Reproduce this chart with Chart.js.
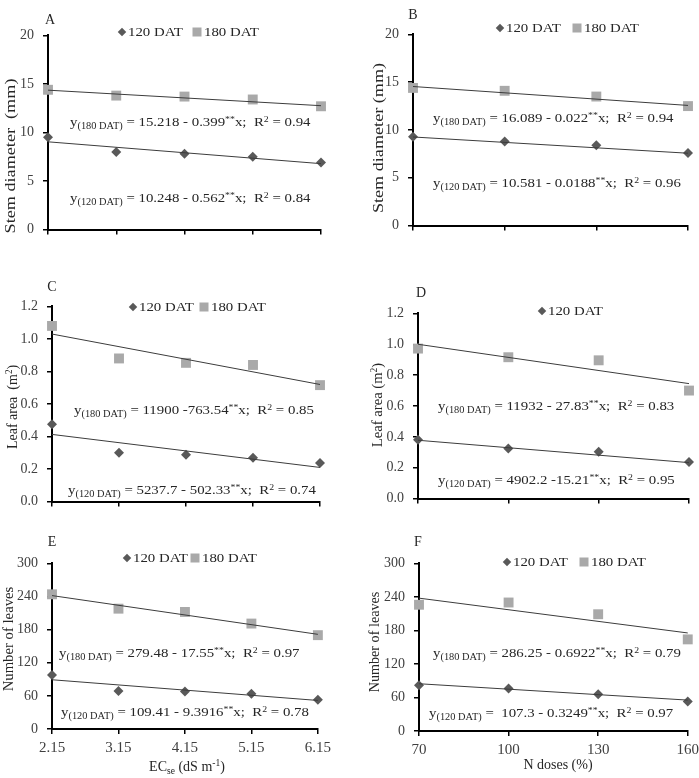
<!DOCTYPE html>
<html>
<head>
<meta charset="utf-8">
<script src="https://cdn.jsdelivr.net/npm/chart.js@4.4.0/dist/chart.umd.min.js"></script>
<style>
  body { margin: 0; background: #fff; width: 699px; height: 778px; position: relative; overflow: hidden;
         font-family: "Liberation Serif", "Times New Roman", serif; color: #262626; }
  canvas { position: absolute; }
  .t { position: absolute; white-space: nowrap; font-size: 13.5px; line-height: 16px; height: 16px;
       transform-origin: 0 50%; transform: scaleX(1.1); }
  .t sub { font-size: 0.7em; vertical-align: -0.3em; line-height: 0; }
  .t sup { font-size: 0.66em; vertical-align: 0.5em; line-height: 0; }
  .c { position: absolute; white-space: nowrap; font-size: 14px; line-height: 16px; transform: translate(-50%, -50%); }
  .c sub { font-size: 0.68em; vertical-align: -0.3em; line-height: 0; }
  .c sup { font-size: 0.68em; vertical-align: 0.55em; line-height: 0; }
  .yt { position: absolute; white-space: nowrap; font-size: 15px; line-height: 16px; }
  .mk { position: absolute; }
  .mk.d { width: 6px; height: 6px; background: #595959; transform: translate(-50%, -50%) rotate(45deg); }
  .mk.s { width: 9px; height: 9px; background: #a9a9a9; transform: translate(-50%, -50%); }
</style>
</head>
<body>
<script>
// x levels
const ecLevels = [2.15, 3.15, 4.15, 5.15, 6.15];
const ecLabels = ['2.15', '3.15', '4.15', '5.15', '6.15'];
const nDoses = [70, 100, 130, 160];
const nLabels = ['70', '100', '130', '160'];

// y ticks
const stemTicks = [0, 5, 10, 15, 20];
const leafTicks = [0, 0.2, 0.4, 0.6, 0.8, 1.0, 1.2];
const leavesTicks = [0, 60, 120, 180, 240, 300];

// A - stem diameter vs ECse
const stemEc120 = [9.5, 8.0, 7.8, 7.5, 6.9];
const stemEc180 = [14.4, 13.8, 13.7, 13.4, 12.7];
const stemEcFit120 = [9.04, 6.79];
const stemEcFit180 = [14.36, 12.76];

// B - stem diameter vs N
const stemN120 = [9.3, 8.8, 8.4, 7.6];
const stemN180 = [14.4, 14.1, 13.5, 12.5];
const stemNFit120 = [9.27, 7.57];
const stemNFit180 = [14.55, 12.57];

// C - leaf area vs ECse
const leafEc120 = [0.475, 0.30, 0.288, 0.27, 0.238];
const leafEc180 = [1.08, 0.88, 0.853, 0.84, 0.716];
const leafEcFit120 = [0.413, 0.21];
const leafEcFit180 = [1.03, 0.72];

// D - leaf area vs N
const leafN120 = [0.382, 0.325, 0.303, 0.237];
const leafN180 = [0.972, 0.916, 0.896, 0.70];
const leafNFit120 = [0.378, 0.233];
const leafNFit180 = [1.0, 0.745];

// E - number of leaves vs ECse
const leavesEc120 = [98, 69, 68, 64, 53];
const leavesEc180 = [244, 218, 212, 191, 170];
const leavesEcFit120 = [89.2, 51.7];
const leavesEcFit180 = [241.7, 171.5];

// F - number of leaves vs N
const leavesN120 = [82, 76, 66, 53];
const leavesN180 = [226, 230, 209, 164];
const leavesNFit120 = [84.6, 55.3];
const leavesNFit180 = [237.8, 175.5];

const FONT = '"Liberation Serif", "Times New Roman", serif';

// plot = [left, right, top, bottom] of the chart area on the page
const panels = [
  { cx: 0,   plot: [48, 321, 28, 237],  xVals: ecLevels, xLabels: null,     yTicks: stemTicks,   dec: 0,
    s120: stemEc120, s180: stemEc180, f120: stemEcFit120, f180: stemEcFit180 },
  { cx: 365, plot: [413, 688, 27, 233], xVals: nDoses,   xLabels: null,     yTicks: stemTicks,   dec: 0,
    s120: stemN120, s180: stemN180, f120: stemNFit120, f180: stemNFit180 },
  { cx: 0,   plot: [52, 320, 299, 509], xVals: ecLevels, xLabels: null,     yTicks: leafTicks,   dec: 1,
    s120: leafEc120, s180: leafEc180, f120: leafEcFit120, f180: leafEcFit180 },
  { cx: 365, plot: [418, 689, 306, 506], xVals: nDoses,  xLabels: null,     yTicks: leafTicks,   dec: 1,
    s120: leafN120, s180: leafN180, f120: leafNFit120, f180: leafNFit180 },
  { cx: 0,   plot: [52, 320, 556, 729], xVals: ecLevels, xLabels: ecLabels, yTicks: leavesTicks, dec: 0,
    s120: leavesEc120, s180: leavesEc180, f120: leavesEcFit120, f180: leavesEcFit180 },
  { cx: 365, plot: [419, 688, 556, 731], xVals: nDoses,  xLabels: nLabels,  yTicks: leavesTicks, dec: 0,
    s120: leavesN120, s180: leavesN180, f120: leavesNFit120, f180: leavesNFit180 }
];

function makePanel(p) {
  const [pl, pr, pt, pb] = p.plot;
  const padTop = 10, padRight = 16;
  const yW = pl - p.cx;
  const xH = p.xLabels ? 32 : 10;
  const w = pr - p.cx + padRight;
  const h = padTop + (pb - pt) + xH;

  const cv = document.createElement('canvas');
  cv.width = w; cv.height = h;
  cv.style.left = p.cx + 'px';
  cv.style.top = (pt - padTop) + 'px';
  cv.style.width = w + 'px';
  cv.style.height = h + 'px';
  document.body.appendChild(cv);

  const last = p.xVals.length - 1;
  const pts = arr => p.xVals.map((x, i) => ({ x: x, y: arr[i] }));
  const fit = f => [{ x: p.xVals[0], y: f[0] }, { x: p.xVals[last], y: f[1] }];

  new Chart(cv, {
    type: 'scatter',
    data: {
      datasets: [
        { data: fit(p.f180), showLine: true, borderColor: '#3c3c3c', borderWidth: 1, pointRadius: 0, clip: false, order: 0 },
        { data: fit(p.f120), showLine: true, borderColor: '#3c3c3c', borderWidth: 1, pointRadius: 0, clip: false, order: 0 },
        { data: pts(p.s180), pointStyle: 'rect', pointRadius: 7, backgroundColor: '#a9a9a9', borderWidth: 0, clip: false, order: 1 },
        { data: pts(p.s120), pointStyle: 'rectRot', pointRadius: 5, backgroundColor: '#595959', borderWidth: 0, clip: false, order: 2 }
      ]
    },
    options: {
      responsive: false,
      animation: false,
      devicePixelRatio: 1,
      layout: { padding: { top: padTop, right: padRight, left: 0, bottom: 0 } },
      plugins: { legend: { display: false }, tooltip: { enabled: false } },
      scales: {
        x: {
          type: 'linear',
          min: p.xVals[0],
          max: p.xVals[last],
          afterBuildTicks: s => { s.ticks = p.xVals.map(v => ({ value: v })); },
          afterFit: s => { s.height = xH; },
          border: { display: true, color: '#000', width: 2 },
          grid: { display: true, drawOnChartArea: false, drawTicks: true, tickLength: 5, color: '#000', lineWidth: 1.5 },
          ticks: {
            padding: 5,
            color: '#404040',
            maxRotation: 0,
            autoSkip: false,
            font: { family: FONT, size: 15 },
            callback: (v, i) => p.xLabels ? p.xLabels[i] : ''
          }
        },
        y: {
          type: 'linear',
          min: p.yTicks[0],
          max: p.yTicks[p.yTicks.length - 1],
          afterBuildTicks: s => { s.ticks = p.yTicks.map(v => ({ value: v })); },
          afterFit: s => { s.width = yW; },
          border: { display: true, color: '#000', width: 2 },
          grid: { display: true, drawOnChartArea: false, drawTicks: true, tickLength: 5, color: '#000', lineWidth: 1.5 },
          ticks: {
            padding: 9,
            color: '#404040',
            font: { family: FONT, size: 14 },
            callback: v => Number(v).toFixed(p.dec)
          }
        }
      }
    }
  });
}

panels.forEach(makePanel);

// ---- text overlays ----
function addHtml(cls, html, x, y) {
  const d = document.createElement('div');
  d.className = cls;
  d.innerHTML = html;
  d.style.left = x + 'px';
  d.style.top = (cls === 't' ? y - 8 : y) + 'px';
  document.body.appendChild(d);
  return d;
}

function eq(tag, rest) {
  return 'y<sub>(' + tag + ' DAT)</sub> ' + rest;
}
const S = '<sup>**</sup>x;&nbsp; R<sup>2</sup> = ';

// panel letters
[['A', 50, 20], ['B', 413, 15], ['C', 52, 287], ['D', 421, 293], ['E', 52, 542], ['F', 418, 542]]
  .forEach(l => addHtml('c', l[0], l[1], l[2]));

// legends: [type, markerX, y]
const legends = [
  [['d', 122, 32], ['s', 197, 32]],
  [['d', 500, 28], ['s', 577, 28]],
  [['d', 133, 307], ['s', 204, 307]],
  [['d', 542, 311]],
  [['d', 127, 558], ['s', 195, 558]],
  [['d', 507, 562], ['s', 584, 562]]
];
legends.forEach(items => items.forEach(it => {
  const m = document.createElement('div');
  m.className = 'mk ' + it[0];
  m.style.left = it[1] + 'px';
  m.style.top = it[2] + 'px';
  document.body.appendChild(m);
  addHtml('t', (it[0] === 'd' ? '120' : '180') + ' DAT', it[1] + (it[0] === 'd' ? 6 : 7), it[2]);
}));

// regression equations
const equations = [
  [eq('180', '= 15.218 - 0.399' + S + '0.94'), 70, 122],
  [eq('120', '= 10.248 - 0.562' + S + '0.84'), 70, 198],
  [eq('180', '= 16.089 - 0.022' + S + '0.94'), 433, 118],
  [eq('120', '= 10.581 - 0.0188' + S + '0.96'), 433, 183],
  [eq('180', '= 11900 -763.54' + S + '0.85'), 74, 410],
  [eq('120', '= 5237.7 - 502.33' + S + '0.74'), 68, 490],
  [eq('180', '= 11932 - 27.83' + S + '0.83'), 438, 406],
  [eq('120', '= 4902.2 -15.21' + S + '0.95'), 438, 480],
  [eq('180', '= 279.48 - 17.55' + S + '0.97'), 59, 653],
  [eq('120', '= 109.41 - 9.3916' + S + '0.78'), 61, 712],
  [eq('180', '= 286.25 - 0.6922' + S + '0.79'), 433, 653],
  [eq('120', '= &nbsp;107.3 - 0.3249' + S + '0.97'), 429, 713]
];
equations.forEach(e => addHtml('t', e[0], e[1], e[2]));

// x-axis titles
addHtml('c', 'EC<sub>se</sub> (dS m<sup>-1</sup>)', 187, 767);
addHtml('c', 'N doses (%)', 558, 765);

// y-axis titles: [text, centerX, centerY, length on page]
const yTitles = [
  ['Stem diameter &nbsp;(mm)', 10, 156, 155],
  ['Stem diameter (mm)', 378, 138, 150],
  ['Leaf area &nbsp;(m<sup style="font-size:0.65em;vertical-align:0.5em;line-height:0">2</sup>)', 12, 407, 84],
  ['Leaf area (m<sup style="font-size:0.65em;vertical-align:0.5em;line-height:0">2</sup>)', 377, 405, 84],
  ['Number of leaves', 8, 639, 105],
  ['Number of leaves', 374, 642, 101]
];
yTitles.forEach(t => {
  const d = addHtml('yt', t[0], t[1], t[2]);
  const k = t[3] / d.offsetWidth;
  d.style.transform = 'translate(-50%, -50%) rotate(-90deg) scaleX(' + k.toFixed(3) + ')';
});
</script>
</body>
</html>
